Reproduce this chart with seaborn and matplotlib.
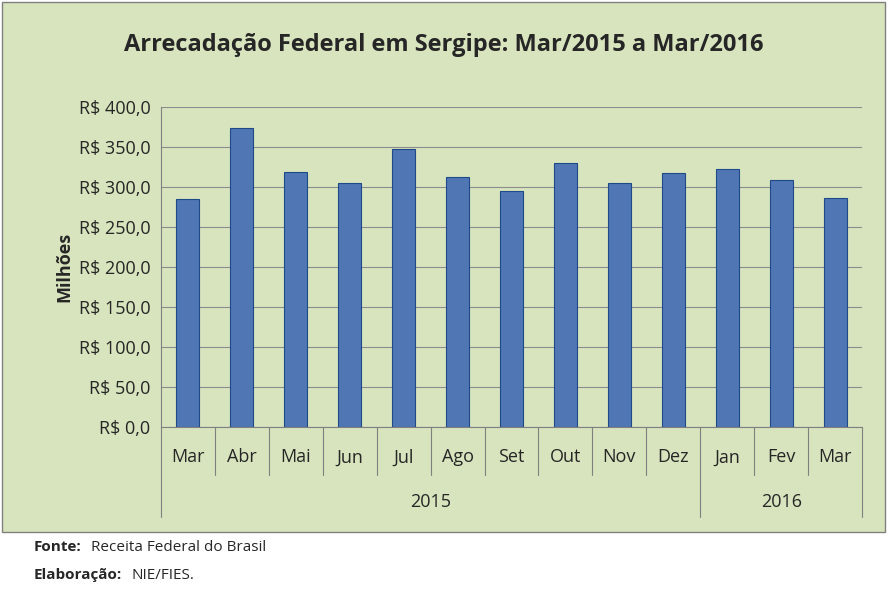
import matplotlib
matplotlib.use("Agg")
import matplotlib.pyplot as plt
import matplotlib.transforms as mtransforms
from matplotlib.patches import Rectangle
import seaborn as sns
import pandas as pd

meses = ["Mar", "Abr", "Mai", "Jun", "Jul", "Ago", "Set", "Out", "Nov", "Dez", "Jan", "Fev", "Mar"]
valores = [285, 374, 319, 305, 347, 312, 295, 330, 305, 317, 322, 309, 286]
yticks = [0, 50, 100, 150, 200, 250, 300, 350, 400]

sns.set_style("white")
plt.rcParams['font.family'] = ['Open Sans', 'DejaVu Sans']

verde = "#d7e4bd"
fig = plt.figure(figsize=(8.88, 5.96), dpi=100, facecolor="white")
fig.patches.append(Rectangle((0.002, 0.108), 0.995, 0.889, transform=fig.transFigure,
                             facecolor=verde, edgecolor="#808080", lw=1, zorder=-10))
ax = fig.add_axes([0.181, 0.2836, 0.79, 0.537])
ax.set_facecolor(verde)

df = pd.DataFrame({"pos": range(len(meses)), "v": valores})
sns.barplot(data=df, x="pos", y="v", color="#3f74c4", width=0.42,
            edgecolor="#1f4a8a", linewidth=0.8, ax=ax, zorder=3)
ax.set_ylim(0, 400)
ax.set_xlim(-0.5, len(meses) - 0.5)
ax.set_yticks(yticks)
ax.set_yticklabels([f"R$ {t:.1f}".replace(".", ",") for t in yticks], fontsize=13)
ax.yaxis.grid(True, color="#8c8c8c", lw=0.8, zorder=0)
for s in ["top", "right"]:
    ax.spines[s].set_visible(False)
ax.spines["left"].set_color("#808080")
ax.spines["bottom"].set_color("#808080")
ax.set_xticks([])
ax.set_xlabel("")
ax.set_ylabel("Milhões", fontsize=13, fontweight="bold")
ax.tick_params(axis="y", length=4, color="#808080")

tr = mtransforms.blended_transform_factory(ax.transData, ax.transAxes)
for i, m in enumerate(meses):
    ax.text(i, -0.095, m, transform=tr, ha="center", va="center", fontsize=13)
for i in range(len(meses) + 1):
    b = i - 0.5
    low = -0.28 if i in (0, 10, len(meses)) else -0.15
    ax.plot([b, b], [0, low], transform=tr, color="#808080", lw=0.8, clip_on=False)
ax.text(4.5, -0.235, "2015", transform=tr, ha="center", va="center", fontsize=13)
ax.text(11, -0.235, "2016", transform=tr, ha="center", va="center", fontsize=13)

fig.text(0.5, 0.925, "Arrecadação Federal em Sergipe: Mar/2015 a Mar/2016",
         ha="center", va="center", fontsize=17, fontweight="bold")
fig.text(0.038, 0.082, "Fonte:", fontsize=11, fontweight="bold", va="center")
fig.text(0.102, 0.082, "Receita Federal do Brasil", fontsize=11, va="center")
fig.text(0.038, 0.035, "Elaboração:", fontsize=11, fontweight="bold", va="center")
fig.text(0.148, 0.035, "NIE/FIES.", fontsize=11, va="center")

fig.savefig("out.png", dpi=100)
